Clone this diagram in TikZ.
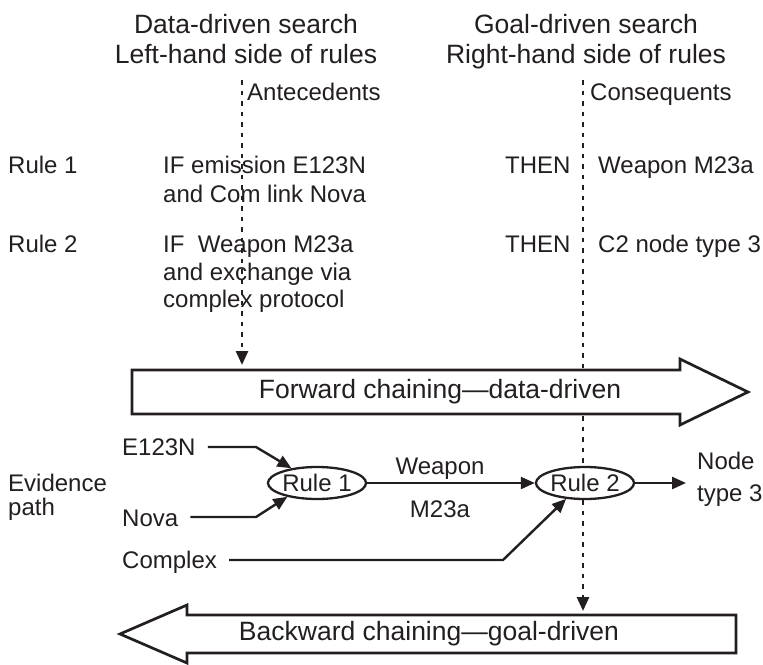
\documentclass[tikz,border=0pt]{standalone}
\usepackage{fontspec}
\setmainfont{Liberation Sans}
\usetikzlibrary{arrows.meta,shapes.geometric}
\definecolor{ink}{RGB}{35,31,32}

\begin{document}
\begin{tikzpicture}[x=1pt,y=-1pt,
    every node/.style={text=ink, inner sep=0pt},
    head/.style={font=\fontsize{26.5}{30}\selectfont},
    txt/.style={font=\fontsize{24}{28}\selectfont, anchor=base west},
    wire/.style={draw=ink, line width=2.4pt, -{Triangle[length=14pt,width=12pt]}},
    guide/.style={draw=ink, line width=2.7pt, dash pattern=on 4.5pt off 6pt,
                  -{Triangle[length=14pt,width=12pt]}},
    bigarrow/.style={draw=ink, line width=2.7pt, fill=white, line join=miter},
    rulenode/.style={ellipse, draw=ink, line width=2.3pt, fill=white,
                     minimum width=93pt, minimum height=32pt,
                     font=\fontsize{24}{28}\selectfont}]

% canvas
\fill[white] (0,0) rectangle (763,664);
\useasboundingbox (0,0) rectangle (763,664);

% column headings
\node[head, anchor=base] (dsa) at (246,33) {Data-driven search};
\node[head, anchor=base] (dsb) at (246,63) {Left-hand side of rules};
\node[head, anchor=base] (gsa) at (586,33) {Goal-driven search};
\node[head, anchor=base] (gsb) at (586,63) {Right-hand side of rules};

% dotted guides (drawn first so the big arrows and Rule 2 cover them)
\coordinate (lhs) at (242,80);
\coordinate (rhs) at (583,80);
\coordinate (fwdtop) at (242,370);
\coordinate (bwdtop) at (583,616);
\draw[guide, shorten >=5pt] (lhs) -- (fwdtop);
\draw[guide, shorten >=5pt] (rhs) -- (bwdtop);

\node[txt] (ante) at (247,100) {Antecedents};
\node[txt] (cons) at (590,100) {Consequents};

% rules
\node[txt] (r1) at (8,173) {Rule 1};
\node[txt] (r1a) at (163,173) {IF emission E123N};
\node[txt] (r1b) at (163,202) {and Com link Nova};
\node[txt] (r1t) at (505,173) {THEN};
\node[txt] (r1c) at (598,173) {Weapon M23a};

\node[txt] (r2) at (8,252) {Rule 2};
\node[txt] (r2a) at (163,252) {IF\ \ Weapon M23a};
\node[txt] (r2b) at (163,280) {and exchange via};
\node[txt] (r2c) at (163,307) {complex protocol};
\node[txt] (r2t) at (505,252) {THEN};
\node[txt] (r2d) at (598,252) {C2 node type 3};

% forward chaining arrow
\draw[bigarrow] (132,370) -- (680,370) -- (680,359) -- (748,392)
  -- (680,425) -- (680,414) -- (132,414) -- cycle;
\node[head] (fwd) at (440,392) {Forward chaining—data-driven};

% evidence path
\node[txt] (ev1) at (8,491) {Evidence};
\node[txt] (ev2) at (8,515) {path};

\node[txt] (e1n) at (122,455) {E123N};
\node[txt] (nova) at (122,526) {Nova};
\node[txt] (cplx) at (122,568.5) {Complex};

\node[rulenode] (rule1) at (317,483) {Rule 1};
\node[rulenode] (rule2) at (585,483) {Rule 2};

\node[txt, anchor=base] (wa) at (440,474) {Weapon};
\node[txt, anchor=base] (wb) at (440,517) {M23a};

\node[txt] (nt1) at (697,469) {Node};
\node[txt] (nt2) at (697,501) {type 3};

\coordinate (k1) at (256,447);
\coordinate (k2) at (256,517);
\coordinate (k3) at (503,560);
\coordinate (out) at (686,483);

\draw[wire] ([xshift=12pt]e1n.east |- k1) -- (k1) -- (rule1.150);
\draw[wire] ([xshift=12pt]nova.east |- k2) -- (k2) -- (rule1.205);
\draw[wire] ([xshift=12pt]cplx.east |- k3) -- (k3) -- (rule2.220);
\draw[wire] (rule1.east) -- (rule2.west);
\draw[wire] (rule2.east) -- (out);

% backward chaining arrow
\draw[bigarrow] (736,615) -- (187,615) -- (187,605) -- (120,634)
  -- (187,663) -- (187,653) -- (736,653) -- cycle;
\node[head] (bwd) at (429,634) {Backward chaining—goal-driven};

\end{tikzpicture}
\end{document}
